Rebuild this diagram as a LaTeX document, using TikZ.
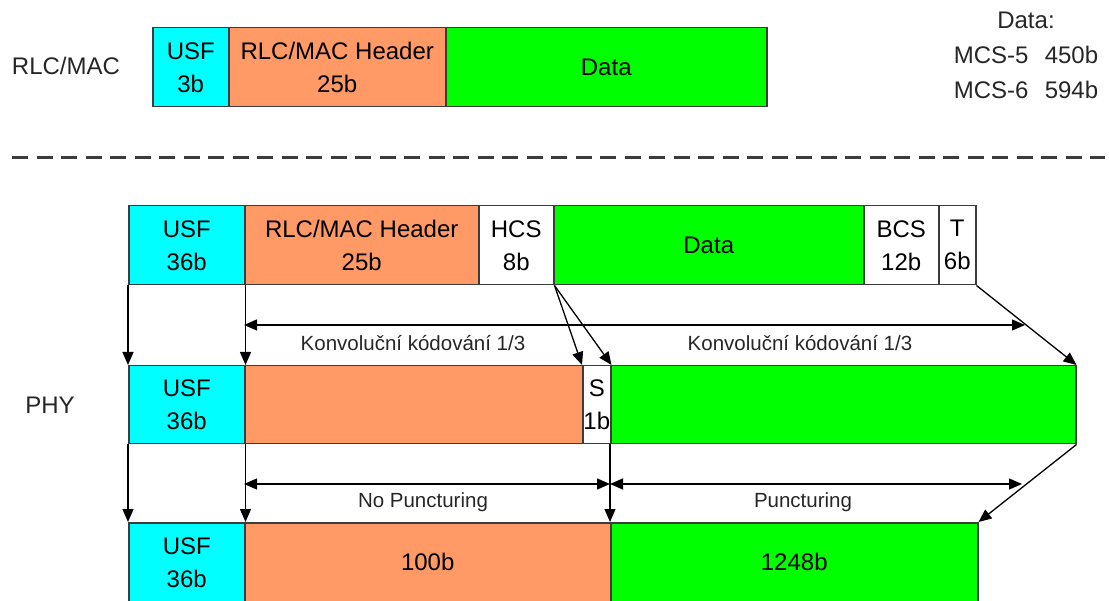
\documentclass[tikz,border=0pt]{standalone}
\usepackage{fontspec}
\setmainfont{Liberation Sans}
\usetikzlibrary{arrows.meta}
\definecolor{usfcyan}{RGB}{0,255,255}
\definecolor{hdrorange}{RGB}{255,153,102}
\definecolor{datagreen}{RGB}{0,255,0}
\definecolor{framegray}{RGB}{60,60,60}

\begin{document}
\begin{tikzpicture}[x=1pt,y=-1pt,
	>={Triangle[length=13pt,width=11pt]},
	cell/.style={draw=framegray,line width=1.5pt,anchor=north west,inner sep=0pt,
		align=center,font=\fontsize{24}{33}\selectfont,minimum height=79pt},
	lbl/.style={font=\fontsize{24}{35}\selectfont,text=black!85},
	note/.style={font=\fontsize{20.5}{24}\selectfont,text=black!85},
	link/.style={->,line width=1.3pt,black}]
	\useasboundingbox (0,0) rectangle (1109,601);
	
	% RLC/MAC
	\node[lbl] (rlclbl) at (66,66) {RLC/MAC};
	\node[cell,fill=usfcyan,minimum width=76pt] (usf1) at (152,27) {USF\\3b};
	\node[cell,fill=hdrorange,minimum width=217pt] (hdr1) at (228,27) {RLC/MAC Header\\25b};
	\node[cell,fill=datagreen,minimum width=321pt] (data1) at (445,27) {Data};
	\node[lbl,align=center] (legend) at (1026,55) {Data:\\MCS-5\hspace{0.4em} 450b\\MCS-6\hspace{0.4em} 594b};
	
	\draw[framegray,line width=3pt,dash pattern=on 16pt off 8.5pt] (12,158) -- (1105,158);
	
	% PHY
	\node[cell,fill=usfcyan,minimum width=116pt] (usf2) at (128,205) {USF\\36b};
	\node[cell,fill=hdrorange,minimum width=234pt] (hdr2) at (244,205) {RLC/MAC Header\\25b};
	\node[cell,fill=white,minimum width=75pt] (hcs) at (478,205) {HCS\\8b};
	\node[cell,fill=datagreen,minimum width=310pt] (data2) at (553,205) {Data};
	\node[cell,fill=white,minimum width=75pt] (bcs) at (863,205) {BCS\\12b};
	\node[cell,fill=white,minimum width=37pt] (tail) at (938,205) {T\\6b};
	
	\node[lbl] (phylbl) at (50,405) {PHY};
	\node[cell,fill=usfcyan,minimum width=116pt,minimum height=78pt] (usf3) at (128,365) {USF\\36b};
	\node[cell,fill=hdrorange,minimum width=338pt,minimum height=78pt] (hdr3) at (244,365) {};
	\node[cell,fill=white,minimum width=28pt,minimum height=78pt] (s) at (582,365) {S\\1b};
	\node[cell,fill=datagreen,minimum width=465pt,minimum height=78pt] (data3) at (610,365) {};
	
	\node[cell,fill=usfcyan,minimum width=116pt] (usf4) at (128,522) {USF\\36b};
	\node[cell,fill=hdrorange,minimum width=366pt] (hdr4) at (244,522) {100b};
	\node[cell,fill=datagreen,minimum width=367pt] (data4) at (610,522) {1248b};
	
	% coding
	\draw[link] (usf2.south west) -- (usf3.north west);
	\draw[link] (usf2.south east) -- (usf3.north east);
	\draw[link] (hcs.south east) -- (s.north west);
	\draw[link] (hcs.south east) -- (s.north east);
	\draw[link] (tail.south east) -- (data3.north east);
	\coordinate (kodA) at (244,325);
	\coordinate (kodB) at (1025,325);
	\draw[<->,line width=1.3pt] (kodA) -- (kodB);
	\node[note] (kodL) at (413,343) {Konvoluční kódování 1/3};
	\node[note] (kodR) at (800,343) {Konvoluční kódování 1/3};
	
	% puncturing
	\draw[link] (usf3.south west) -- (usf4.north west);
	\draw[link] (usf3.south east) -- (usf4.north east);
	\draw[link] (data3.south west) -- (data4.north west);
	\draw[link] (data3.south east) -- (data4.north east);
	\coordinate (npA) at (244,484);
	\coordinate (npB) at (610,484);
	\coordinate (pB) at (1022,484);
	\draw[<->,line width=1.3pt] (npA) -- (npB);
	\draw[<->,line width=1.3pt] (npB) -- (pB);
	\node[note] (nplbl) at (423,502) {No Puncturing};
	\node[note] (plbl) at (803,502) {Puncturing};
	
\end{tikzpicture}
\end{document}
